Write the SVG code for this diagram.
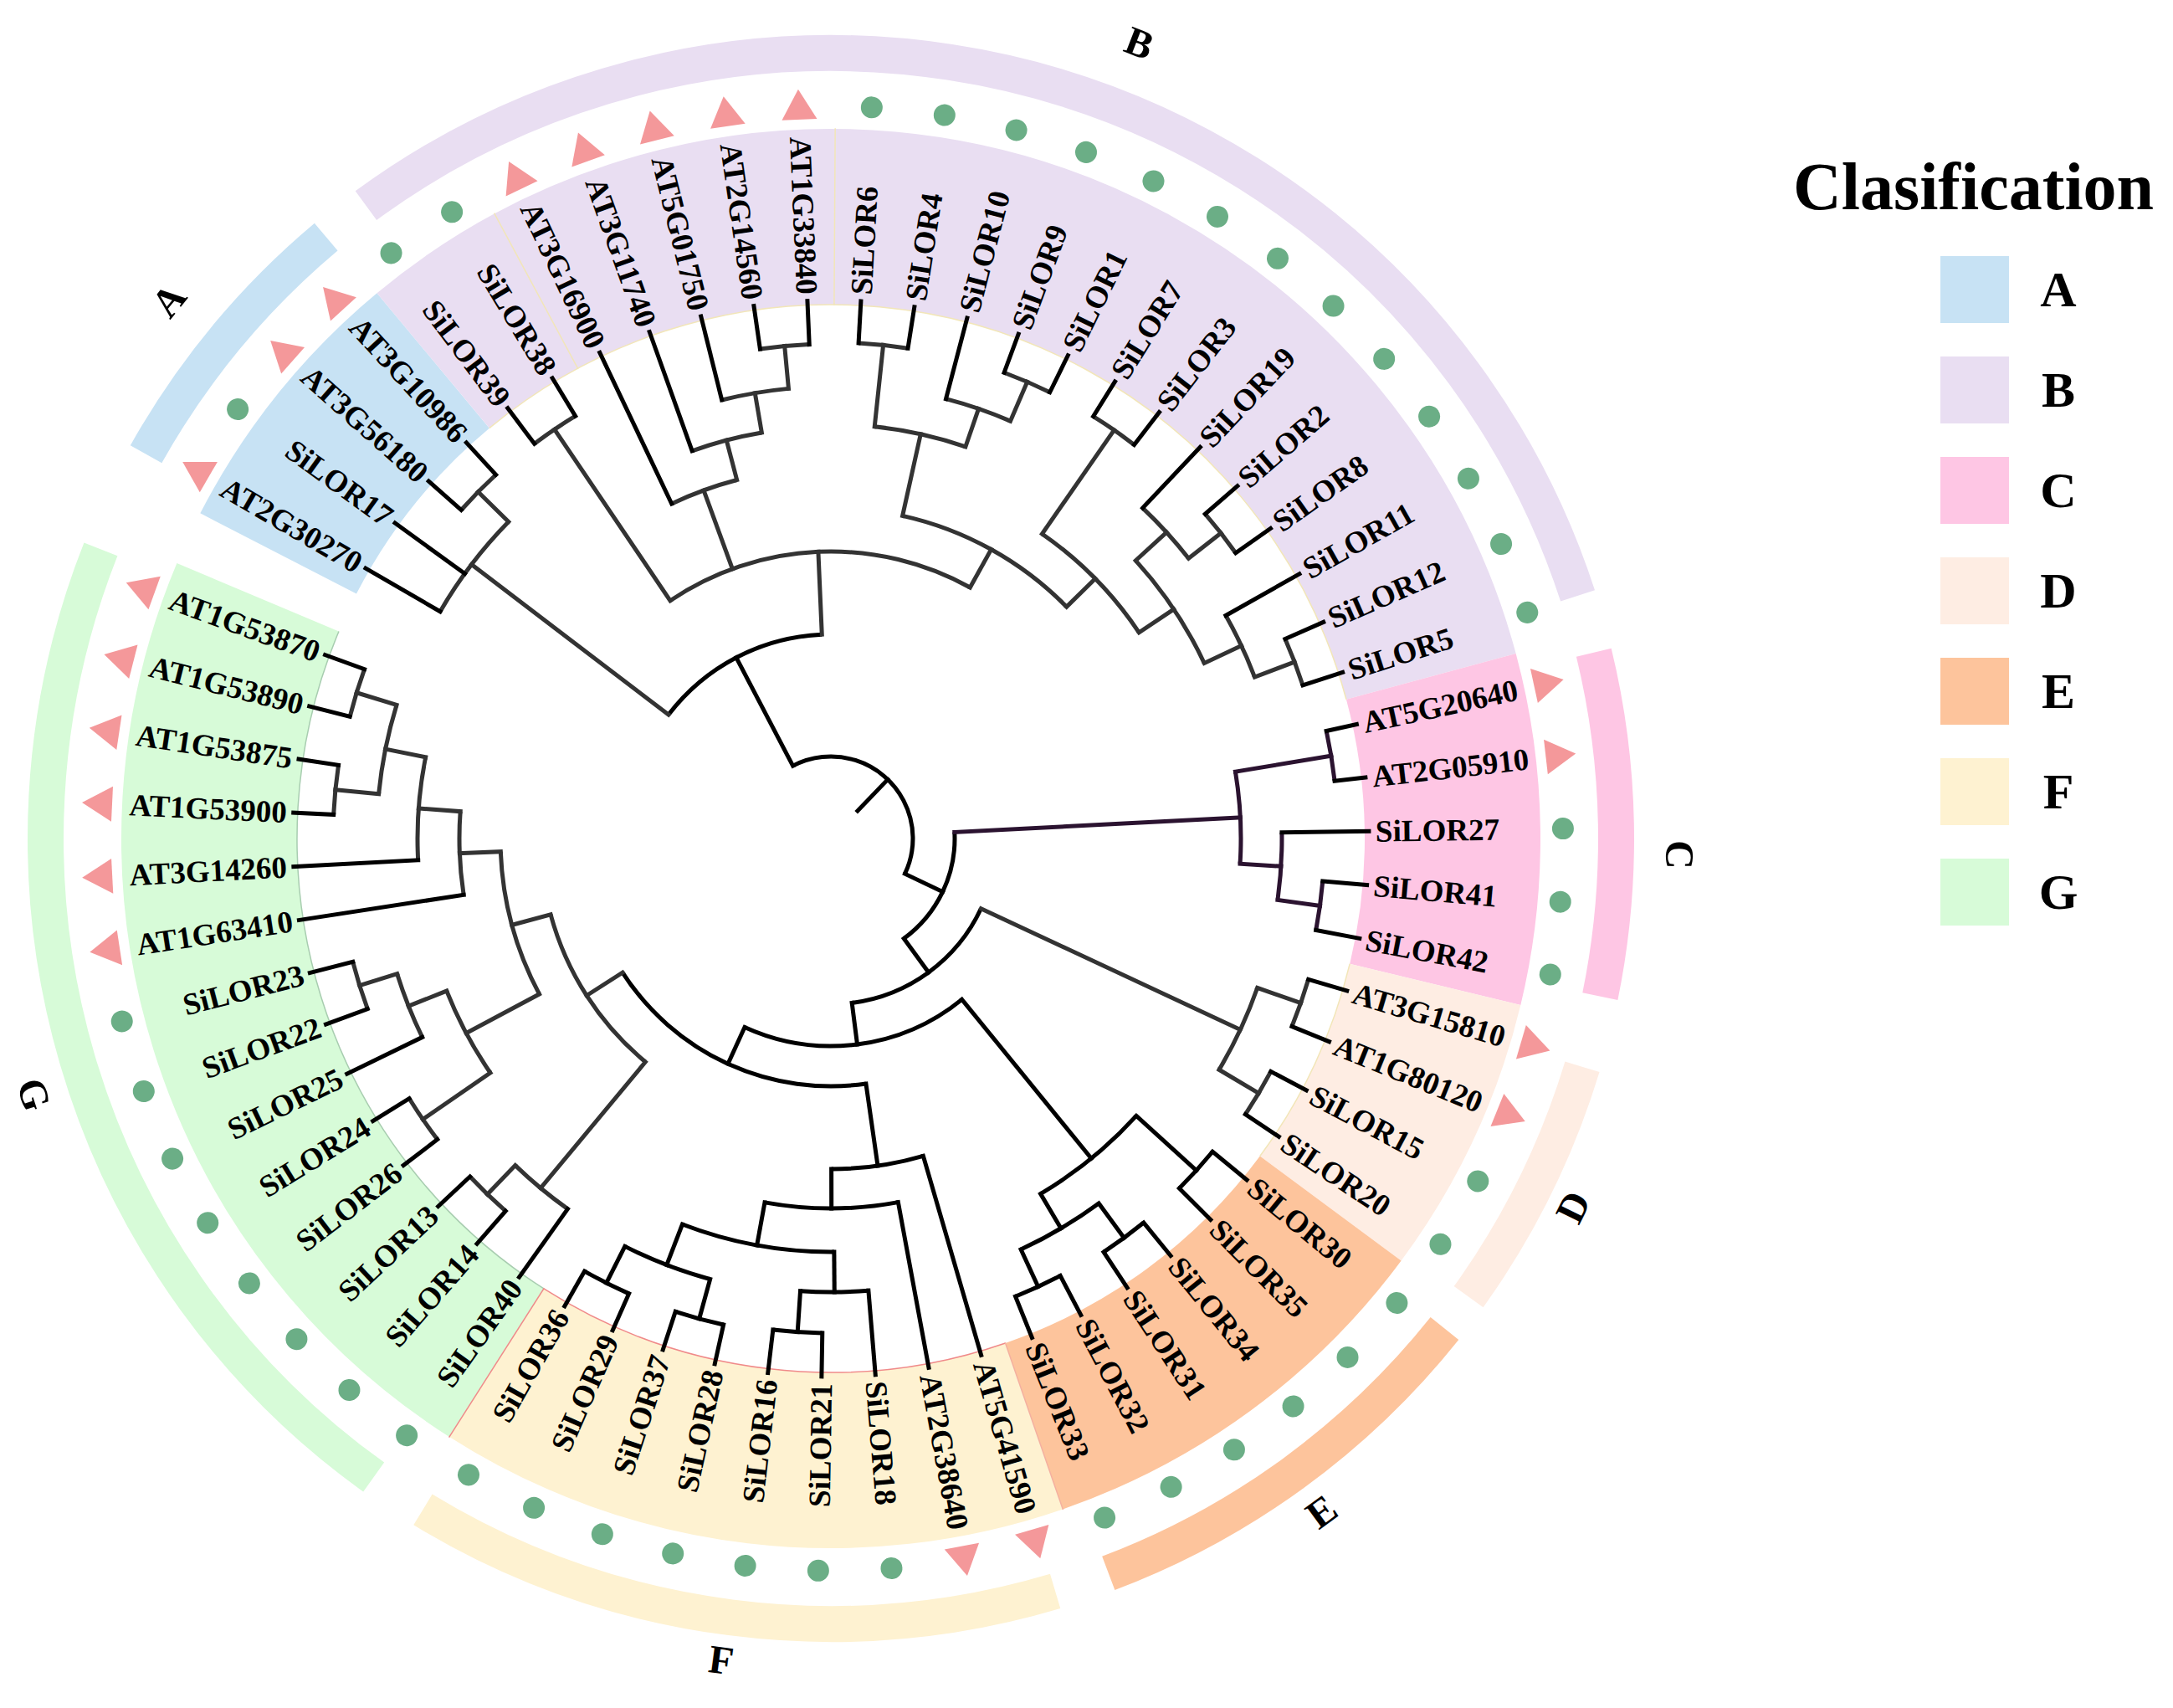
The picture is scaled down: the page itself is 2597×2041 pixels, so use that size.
<svg xmlns="http://www.w3.org/2000/svg" width="2597" height="2041" viewBox="0 0 2597 2041">
<style>
.t{font-family:"Liberation Serif","Times New Roman",serif;font-weight:bold;font-size:37px;dominant-baseline:central;fill:#000}
.L{font-family:"Liberation Serif","Times New Roman",serif;font-weight:bold;font-size:48px;dominant-baseline:central;text-anchor:middle;fill:#000}
.lg{font-family:"Liberation Serif","Times New Roman",serif;font-weight:bold;font-size:60px;dominant-baseline:central;text-anchor:middle;fill:#000}
line{stroke-linecap:square}
.tri{fill:#F4989A}
.dot{fill:#6BAE86}
.sec{fill:none;stroke-width:210}
.band{fill:none;stroke-width:43}
.bd{fill:none;stroke-width:1.5}
</style>
<rect width="2597" height="2041" fill="#fff"/>
<g transform="translate(993 1002)">
<g id="sectors">
<circle class="sec" r="743" stroke="#C7E2F4" pathLength="360" stroke-dasharray="22.95 400" transform="rotate(207.28)"/>
<circle class="sec" r="743" stroke="#E9DEF2" pathLength="360" stroke-dasharray="114.66 400" transform="rotate(230.23)"/>
<circle class="sec" r="743" stroke="#FEC6E4" pathLength="360" stroke-dasharray="28.68 400" transform="rotate(-15.11)"/>
<circle class="sec" r="743" stroke="#FEEDE3" pathLength="360" stroke-dasharray="22.94 400" transform="rotate(13.57)"/>
<circle class="sec" r="743" stroke="#FDC49C" pathLength="360" stroke-dasharray="34.41 400" transform="rotate(36.51)"/>
<circle class="sec" r="743" stroke="#FEF2D1" pathLength="360" stroke-dasharray="51.61 400" transform="rotate(70.92)"/>
<circle class="sec" r="743" stroke="#D7FBD8" pathLength="360" stroke-dasharray="80.29 400" transform="rotate(122.53)"/>
<circle class="bd" r="638" stroke="#F2E6B8" pathLength="360" stroke-dasharray="114.66 400" transform="rotate(230.23)"/>
<circle class="bd" r="638" stroke="#F2E6B8" pathLength="360" stroke-dasharray="22.94 400" transform="rotate(13.57)"/>
<circle class="bd" r="638" stroke="#F08A8A" pathLength="360" stroke-dasharray="51.61 400" transform="rotate(70.92)"/>
<circle class="bd" r="638" stroke="#A8CDB0" pathLength="360" stroke-dasharray="80.29 400" transform="rotate(122.53)"/>
<line class="bd" x1="638" x2="848" stroke="#F2E6B8" transform="rotate(241.7)"/>
<line class="bd" x1="638" x2="848" stroke="#F2E6B8" transform="rotate(270.35)"/>
<line class="bd" x1="638" x2="848" stroke="#F08A8A" transform="rotate(122.53)"/>
<line class="bd" x1="638" x2="848" stroke="#F4B0A0" transform="rotate(70.92)"/>
</g>
<g id="bands">
<circle class="band" r="938.5" stroke="#C7E2F4" pathLength="360" stroke-dasharray="20.7 400" transform="rotate(209.3)"/>
<circle class="band" r="938.5" stroke="#E9DEF2" pathLength="360" stroke-dasharray="108.3 400" transform="rotate(233.7)"/>
<circle class="band" r="938.5" stroke="#FEC6E4" pathLength="360" stroke-dasharray="25.3 400" transform="rotate(-13.7)"/>
<circle class="band" r="938.5" stroke="#FEEDE3" pathLength="360" stroke-dasharray="18.8 400" transform="rotate(16.9)"/>
<circle class="band" r="938.5" stroke="#FDC49C" pathLength="360" stroke-dasharray="30.7 400" transform="rotate(38.6)"/>
<circle class="band" r="938.5" stroke="#FEF2D1" pathLength="360" stroke-dasharray="47.9 400" transform="rotate(73.4)"/>
<circle class="band" r="938.5" stroke="#D7FBD8" pathLength="360" stroke-dasharray="76 400" transform="rotate(125.6)"/>
<text class="L" transform="rotate(219.1) translate(1020 0) rotate(90)">A</text>
<text class="L" transform="rotate(-68.8) translate(1020 0) rotate(90)">B</text>
<text class="L" transform="rotate(1.1) translate(1015 0) rotate(90)">C</text>
<text class="L" transform="rotate(26.4) translate(990 0) rotate(-90)">D</text>
<text class="L" transform="rotate(53.9) translate(995 0) rotate(-90)">E</text>
<text class="L" transform="rotate(97.6) translate(990 0) rotate(-90)">F</text>
<text class="L" transform="rotate(162.2) translate(1000 0) rotate(-90)">G</text>
</g>
<g id="connectors" fill="none" stroke-width="5">
<g stroke="#000">
<line x1="46" x2="98" transform="rotate(-46.07)"/>
<circle r="98" pathLength="360" stroke-dasharray="143.07 400" transform="rotate(-117.6)"/>
<line x1="98" x2="244" transform="rotate(-117.6)"/>
<circle r="244" pathLength="360" stroke-dasharray="50.16 400" transform="rotate(-142.68)"/>
<line x1="98" x2="148" transform="rotate(25.47)"/>
<circle r="148" pathLength="360" stroke-dasharray="56.8 400" transform="rotate(-2.93)"/>
<line x1="148" x2="198" transform="rotate(53.87)"/>
<circle r="198" pathLength="360" stroke-dasharray="57.67 400" transform="rotate(25.03)"/>
<line x1="198" x2="248" transform="rotate(82.7)"/>
<circle r="248" pathLength="360" stroke-dasharray="63.7 400" transform="rotate(50.85)"/>
<line x1="248" x2="493" transform="rotate(50.85)"/>
<circle r="493" pathLength="360" stroke-dasharray="17.21 400" transform="rotate(42.24)"/>
<line x1="493" x2="590" transform="rotate(42.24)"/>
<circle r="590" pathLength="360" stroke-dasharray="5.74 400" transform="rotate(39.37)"/>
<line x1="493" x2="541" transform="rotate(59.45)"/>
<circle r="541" pathLength="360" stroke-dasharray="11.47 400" transform="rotate(53.71)"/>
<line x1="541" x2="592" transform="rotate(53.71)"/>
<circle r="592" pathLength="360" stroke-dasharray="5.74 400" transform="rotate(50.84)"/>
<line x1="541" x2="590" transform="rotate(65.18)"/>
<circle r="590" pathLength="360" stroke-dasharray="5.74 400" transform="rotate(62.31)"/>
<line x1="248" x2="296" transform="rotate(114.55)"/>
<circle r="296" pathLength="360" stroke-dasharray="65.41 400" transform="rotate(81.85)"/>
<line x1="296" x2="395" transform="rotate(81.85)"/>
<circle r="395" pathLength="360" stroke-dasharray="16.13 400" transform="rotate(73.78)"/>
<line x1="395" x2="442" transform="rotate(89.91)"/>
<circle r="442" pathLength="360" stroke-dasharray="20.78 400" transform="rotate(79.52)"/>
<line x1="442" x2="494" transform="rotate(100.3)"/>
<circle r="494" pathLength="360" stroke-dasharray="21.51 400" transform="rotate(89.55)"/>
<line x1="494" x2="542" transform="rotate(89.55)"/>
<circle r="542" pathLength="360" stroke-dasharray="8.61 400" transform="rotate(85.25)"/>
<line x1="542" x2="591" transform="rotate(93.86)"/>
<circle r="591" pathLength="360" stroke-dasharray="5.73 400" transform="rotate(90.99)"/>
<line x1="494" x2="546" transform="rotate(111.06)"/>
<circle r="546" pathLength="360" stroke-dasharray="11.47 400" transform="rotate(105.33)"/>
<line x1="546" x2="595" transform="rotate(105.33)"/>
<circle r="595" pathLength="360" stroke-dasharray="5.73 400" transform="rotate(102.46)"/>
<line x1="546" x2="595" transform="rotate(116.8)"/>
<circle r="595" pathLength="360" stroke-dasharray="5.73 400" transform="rotate(113.93)"/>
</g>
<g stroke="#333">
<line x1="244" x2="540" transform="rotate(-142.68)"/>
<circle r="540" pathLength="360" stroke-dasharray="14.34 400" transform="rotate(-149.85)"/>
<line x1="540" x2="591" transform="rotate(-135.51)"/>
<circle r="591" pathLength="360" stroke-dasharray="5.74 400" transform="rotate(-138.38)"/>
<line x1="244" x2="343" transform="rotate(-92.52)"/>
<circle r="343" pathLength="360" stroke-dasharray="63.05 400" transform="rotate(-124.04)"/>
<line x1="343" x2="590" transform="rotate(-124.04)"/>
<circle r="590" pathLength="360" stroke-dasharray="5.74 400" transform="rotate(-126.91)"/>
<line x1="343" x2="443" transform="rotate(-110.06)"/>
<circle r="443" pathLength="360" stroke-dasharray="10.75 400" transform="rotate(-115.44)"/>
<line x1="443" x2="492" transform="rotate(-104.69)"/>
<circle r="492" pathLength="360" stroke-dasharray="10.03 400" transform="rotate(-109.7)"/>
<line x1="492" x2="540" transform="rotate(-99.67)"/>
<circle r="540" pathLength="360" stroke-dasharray="8.6 400" transform="rotate(-103.97)"/>
<line x1="540" x2="591" transform="rotate(-95.37)"/>
<circle r="591" pathLength="360" stroke-dasharray="5.73 400" transform="rotate(-98.23)"/>
<line x1="343" x2="395" transform="rotate(-60.99)"/>
<circle r="395" pathLength="360" stroke-dasharray="32.97 400" transform="rotate(-77.48)"/>
<line x1="395" x2="495" transform="rotate(-77.48)"/>
<circle r="495" pathLength="360" stroke-dasharray="12.91 400" transform="rotate(-83.94)"/>
<line x1="495" x2="593" transform="rotate(-83.94)"/>
<circle r="593" pathLength="360" stroke-dasharray="5.73 400" transform="rotate(-86.8)"/>
<line x1="495" x2="543" transform="rotate(-71.03)"/>
<circle r="543" pathLength="360" stroke-dasharray="8.6 400" transform="rotate(-75.33)"/>
<line x1="543" x2="594" transform="rotate(-66.73)"/>
<circle r="594" pathLength="360" stroke-dasharray="5.74 400" transform="rotate(-69.6)"/>
<line x1="395" x2="443" transform="rotate(-44.51)"/>
<circle r="443" pathLength="360" stroke-dasharray="21.5 400" transform="rotate(-55.26)"/>
<line x1="443" x2="594" transform="rotate(-55.26)"/>
<circle r="594" pathLength="360" stroke-dasharray="5.74 400" transform="rotate(-58.13)"/>
<line x1="443" x2="493" transform="rotate(-33.76)"/>
<circle r="493" pathLength="360" stroke-dasharray="17.21 400" transform="rotate(-42.36)"/>
<line x1="493" x2="543" transform="rotate(-42.36)"/>
<circle r="543" pathLength="360" stroke-dasharray="8.6 400" transform="rotate(-46.66)"/>
<line x1="543" x2="592" transform="rotate(-38.06)"/>
<circle r="592" pathLength="360" stroke-dasharray="5.73 400" transform="rotate(-40.92)"/>
<line x1="493" x2="542" transform="rotate(-25.15)"/>
<circle r="542" pathLength="360" stroke-dasharray="8.6 400" transform="rotate(-29.45)"/>
<line x1="542" x2="593" transform="rotate(-20.85)"/>
<circle r="593" pathLength="360" stroke-dasharray="5.74 400" transform="rotate(-23.72)"/>
<line x1="198" x2="540" transform="rotate(25.03)"/>
<circle r="540" pathLength="360" stroke-dasharray="11.47 400" transform="rotate(19.3)"/>
<line x1="540" x2="595" transform="rotate(19.3)"/>
<circle r="595" pathLength="360" stroke-dasharray="5.74 400" transform="rotate(16.43)"/>
<line x1="540" x2="595" transform="rotate(30.77)"/>
<circle r="595" pathLength="360" stroke-dasharray="5.74 400" transform="rotate(27.9)"/>
<line x1="296" x2="347" transform="rotate(147.26)"/>
<circle r="347" pathLength="360" stroke-dasharray="35.13 400" transform="rotate(129.7)"/>
<line x1="347" x2="543" transform="rotate(129.7)"/>
<circle r="543" pathLength="360" stroke-dasharray="8.6 400" transform="rotate(125.4)"/>
<line x1="543" x2="591" transform="rotate(134)"/>
<circle r="591" pathLength="360" stroke-dasharray="5.74 400" transform="rotate(131.13)"/>
<line x1="347" x2="395" transform="rotate(164.83)"/>
<circle r="395" pathLength="360" stroke-dasharray="25.81 400" transform="rotate(151.92)"/>
<line x1="395" x2="494" transform="rotate(151.92)"/>
<circle r="494" pathLength="360" stroke-dasharray="12.9 400" transform="rotate(145.47)"/>
<line x1="494" x2="592" transform="rotate(145.47)"/>
<circle r="592" pathLength="360" stroke-dasharray="5.74 400" transform="rotate(142.6)"/>
<line x1="494" x2="543" transform="rotate(158.37)"/>
<circle r="543" pathLength="360" stroke-dasharray="8.61 400" transform="rotate(154.07)"/>
<line x1="543" x2="590" transform="rotate(162.68)"/>
<circle r="590" pathLength="360" stroke-dasharray="5.73 400" transform="rotate(159.81)"/>
<line x1="395" x2="444" transform="rotate(177.73)"/>
<circle r="444" pathLength="360" stroke-dasharray="12.9 400" transform="rotate(171.28)"/>
<line x1="444" x2="494" transform="rotate(184.18)"/>
<circle r="494" pathLength="360" stroke-dasharray="14.34 400" transform="rotate(177.01)"/>
<line x1="494" x2="543" transform="rotate(191.35)"/>
<circle r="543" pathLength="360" stroke-dasharray="11.47 400" transform="rotate(185.62)"/>
<line x1="543" x2="595" transform="rotate(185.62)"/>
<circle r="595" pathLength="360" stroke-dasharray="5.73 400" transform="rotate(182.75)"/>
<line x1="543" x2="593" transform="rotate(197.09)"/>
<circle r="593" pathLength="360" stroke-dasharray="5.73 400" transform="rotate(194.22)"/>
</g>
<g stroke="#2B1330">
<line x1="148" x2="490" transform="rotate(-2.93)"/>
<circle r="490" pathLength="360" stroke-dasharray="12.91 400" transform="rotate(-9.38)"/>
<line x1="490" x2="606" transform="rotate(-9.38)"/>
<circle r="606" pathLength="360" stroke-dasharray="5.74 400" transform="rotate(-12.25)"/>
<line x1="490" x2="539" transform="rotate(3.53)"/>
<circle r="539" pathLength="360" stroke-dasharray="8.61 400" transform="rotate(-0.78)"/>
<line x1="539" x2="590" transform="rotate(7.83)"/>
<circle r="590" pathLength="360" stroke-dasharray="5.74 400" transform="rotate(4.96)"/>
</g>
<g stroke="#000">
<line x1="593" x2="643" transform="rotate(-86.8)"/>
<line x1="593" x2="643" transform="rotate(-81.07)"/>
<line x1="543" x2="643" transform="rotate(-75.33)"/>
<line x1="594" x2="643" transform="rotate(-69.6)"/>
<line x1="594" x2="643" transform="rotate(-63.86)"/>
<line x1="594" x2="643" transform="rotate(-58.13)"/>
<line x1="594" x2="643" transform="rotate(-52.39)"/>
<line x1="543" x2="643" transform="rotate(-46.66)"/>
<line x1="592" x2="643" transform="rotate(-40.92)"/>
<line x1="592" x2="643" transform="rotate(-35.19)"/>
<line x1="542" x2="643" transform="rotate(-29.45)"/>
<line x1="593" x2="643" transform="rotate(-23.72)"/>
<line x1="593" x2="643" transform="rotate(-17.98)"/>
<line x1="606" x2="643" transform="rotate(-12.25)"/>
<line x1="606" x2="643" transform="rotate(-6.51)"/>
<line x1="539" x2="643" transform="rotate(-0.78)"/>
<line x1="590" x2="643" transform="rotate(4.96)"/>
<line x1="590" x2="643" transform="rotate(10.7)"/>
<line x1="595" x2="643" transform="rotate(16.43)"/>
<line x1="595" x2="643" transform="rotate(22.17)"/>
<line x1="595" x2="643" transform="rotate(27.9)"/>
<line x1="595" x2="643" transform="rotate(33.64)"/>
<line x1="590" x2="643" transform="rotate(39.37)"/>
<line x1="590" x2="643" transform="rotate(45.11)"/>
<line x1="592" x2="643" transform="rotate(50.84)"/>
<line x1="592" x2="643" transform="rotate(56.58)"/>
<line x1="590" x2="643" transform="rotate(62.31)"/>
<line x1="590" x2="643" transform="rotate(68.05)"/>
<line x1="395" x2="643" transform="rotate(73.78)"/>
<line x1="442" x2="643" transform="rotate(79.52)"/>
<line x1="542" x2="643" transform="rotate(85.25)"/>
<line x1="591" x2="643" transform="rotate(90.99)"/>
<line x1="591" x2="643" transform="rotate(96.72)"/>
<line x1="595" x2="643" transform="rotate(102.46)"/>
<line x1="595" x2="643" transform="rotate(108.19)"/>
<line x1="595" x2="643" transform="rotate(113.93)"/>
<line x1="595" x2="643" transform="rotate(119.66)"/>
<line x1="543" x2="643" transform="rotate(125.4)"/>
<line x1="591" x2="643" transform="rotate(131.13)"/>
<line x1="591" x2="643" transform="rotate(136.87)"/>
<line x1="592" x2="643" transform="rotate(142.6)"/>
<line x1="592" x2="643" transform="rotate(148.34)"/>
<line x1="543" x2="643" transform="rotate(154.07)"/>
<line x1="590" x2="643" transform="rotate(159.81)"/>
<line x1="590" x2="643" transform="rotate(165.54)"/>
<line x1="444" x2="643" transform="rotate(171.28)"/>
<line x1="494" x2="643" transform="rotate(177.01)"/>
<line x1="595" x2="643" transform="rotate(182.75)"/>
<line x1="595" x2="643" transform="rotate(188.48)"/>
<line x1="593" x2="643" transform="rotate(194.22)"/>
<line x1="593" x2="643" transform="rotate(199.95)"/>
<line x1="540" x2="643" transform="rotate(210.15)"/>
<line x1="540" x2="643" transform="rotate(215.89)"/>
<line x1="591" x2="643" transform="rotate(221.62)"/>
<line x1="591" x2="643" transform="rotate(227.36)"/>
<line x1="590" x2="643" transform="rotate(233.09)"/>
<line x1="590" x2="643" transform="rotate(238.83)"/>
<line x1="443" x2="643" transform="rotate(244.56)"/>
<line x1="492" x2="643" transform="rotate(250.3)"/>
<line x1="540" x2="643" transform="rotate(256.03)"/>
<line x1="591" x2="643" transform="rotate(261.77)"/>
<line x1="591" x2="643" transform="rotate(267.5)"/>
</g>
</g>
<g id="leaves">
<g id="SiLOR6"><text class="t" transform="rotate(-86.8) translate(651 0)">SiLOR6</text><circle class="dot" cx="875" r="13" transform="rotate(-86.8)"/></g>
<g id="SiLOR4"><text class="t" transform="rotate(-81.07) translate(651 0)">SiLOR4</text><circle class="dot" cx="875" r="13" transform="rotate(-81.07)"/></g>
<g id="SiLOR10"><text class="t" transform="rotate(-75.33) translate(651 0)">SiLOR10</text><circle class="dot" cx="875" r="13" transform="rotate(-75.33)"/></g>
<g id="SiLOR9"><text class="t" transform="rotate(-69.6) translate(651 0)">SiLOR9</text><circle class="dot" cx="875" r="13" transform="rotate(-69.6)"/></g>
<g id="SiLOR1"><text class="t" transform="rotate(-63.86) translate(651 0)">SiLOR1</text><circle class="dot" cx="875" r="13" transform="rotate(-63.86)"/></g>
<g id="SiLOR7"><text class="t" transform="rotate(-58.13) translate(651 0)">SiLOR7</text><circle class="dot" cx="875" r="13" transform="rotate(-58.13)"/></g>
<g id="SiLOR3"><text class="t" transform="rotate(-52.39) translate(651 0)">SiLOR3</text><circle class="dot" cx="875" r="13" transform="rotate(-52.39)"/></g>
<g id="SiLOR19"><text class="t" transform="rotate(-46.66) translate(651 0)">SiLOR19</text><circle class="dot" cx="875" r="13" transform="rotate(-46.66)"/></g>
<g id="SiLOR2"><text class="t" transform="rotate(-40.92) translate(651 0)">SiLOR2</text><circle class="dot" cx="875" r="13" transform="rotate(-40.92)"/></g>
<g id="SiLOR8"><text class="t" transform="rotate(-35.19) translate(651 0)">SiLOR8</text><circle class="dot" cx="875" r="13" transform="rotate(-35.19)"/></g>
<g id="SiLOR11"><text class="t" transform="rotate(-29.45) translate(651 0)">SiLOR11</text><circle class="dot" cx="875" r="13" transform="rotate(-29.45)"/></g>
<g id="SiLOR12"><text class="t" transform="rotate(-23.72) translate(651 0)">SiLOR12</text><circle class="dot" cx="875" r="13" transform="rotate(-23.72)"/></g>
<g id="SiLOR5"><text class="t" transform="rotate(-17.98) translate(651 0)">SiLOR5</text><circle class="dot" cx="875" r="13" transform="rotate(-17.98)"/></g>
<g id="AT5G20640"><text class="t" transform="rotate(-12.25) translate(651 0)">AT5G20640</text><polygon class="tri" points="896,0 860,-21 860,21" transform="rotate(-12.25)"/></g>
<g id="AT2G05910"><text class="t" transform="rotate(-6.51) translate(651 0)">AT2G05910</text><polygon class="tri" points="896,0 860,-21 860,21" transform="rotate(-6.51)"/></g>
<g id="SiLOR27"><text class="t" transform="rotate(-0.78) translate(651 0)">SiLOR27</text><circle class="dot" cx="875" r="13" transform="rotate(-0.78)"/></g>
<g id="SiLOR41"><text class="t" transform="rotate(4.96) translate(651 0)">SiLOR41</text><circle class="dot" cx="875" r="13" transform="rotate(4.96)"/></g>
<g id="SiLOR42"><text class="t" transform="rotate(10.7) translate(651 0)">SiLOR42</text><circle class="dot" cx="875" r="13" transform="rotate(10.7)"/></g>
<g id="AT3G15810"><text class="t" transform="rotate(16.43) translate(651 0)">AT3G15810</text><polygon class="tri" points="896,0 860,-21 860,21" transform="rotate(16.43)"/></g>
<g id="AT1G80120"><text class="t" transform="rotate(22.17) translate(651 0)">AT1G80120</text><polygon class="tri" points="896,0 860,-21 860,21" transform="rotate(22.17)"/></g>
<g id="SiLOR15"><text class="t" transform="rotate(27.9) translate(651 0)">SiLOR15</text><circle class="dot" cx="875" r="13" transform="rotate(27.9)"/></g>
<g id="SiLOR20"><text class="t" transform="rotate(33.64) translate(651 0)">SiLOR20</text><circle class="dot" cx="875" r="13" transform="rotate(33.64)"/></g>
<g id="SiLOR30"><text class="t" transform="rotate(39.37) translate(651 0)">SiLOR30</text><circle class="dot" cx="875" r="13" transform="rotate(39.37)"/></g>
<g id="SiLOR35"><text class="t" transform="rotate(45.11) translate(651 0)">SiLOR35</text><circle class="dot" cx="875" r="13" transform="rotate(45.11)"/></g>
<g id="SiLOR34"><text class="t" transform="rotate(50.84) translate(651 0)">SiLOR34</text><circle class="dot" cx="875" r="13" transform="rotate(50.84)"/></g>
<g id="SiLOR31"><text class="t" transform="rotate(56.58) translate(651 0)">SiLOR31</text><circle class="dot" cx="875" r="13" transform="rotate(56.58)"/></g>
<g id="SiLOR32"><text class="t" transform="rotate(62.31) translate(651 0)">SiLOR32</text><circle class="dot" cx="875" r="13" transform="rotate(62.31)"/></g>
<g id="SiLOR33"><text class="t" transform="rotate(68.05) translate(651 0)">SiLOR33</text><circle class="dot" cx="875" r="13" transform="rotate(68.05)"/></g>
<g id="AT5G41590"><text class="t" transform="rotate(73.78) translate(651 0)">AT5G41590</text><polygon class="tri" points="896,0 860,-21 860,21" transform="rotate(73.78)"/></g>
<g id="AT2G38640"><text class="t" transform="rotate(79.52) translate(651 0)">AT2G38640</text><polygon class="tri" points="896,0 860,-21 860,21" transform="rotate(79.52)"/></g>
<g id="SiLOR18"><text class="t" transform="rotate(85.25) translate(651 0)">SiLOR18</text><circle class="dot" cx="875" r="13" transform="rotate(85.25)"/></g>
<g id="SiLOR21"><text class="t" text-anchor="end" transform="rotate(90.99) translate(651 0) rotate(180)">SiLOR21</text><circle class="dot" cx="875" r="13" transform="rotate(90.99)"/></g>
<g id="SiLOR16"><text class="t" text-anchor="end" transform="rotate(96.72) translate(651 0) rotate(180)">SiLOR16</text><circle class="dot" cx="875" r="13" transform="rotate(96.72)"/></g>
<g id="SiLOR28"><text class="t" text-anchor="end" transform="rotate(102.46) translate(651 0) rotate(180)">SiLOR28</text><circle class="dot" cx="875" r="13" transform="rotate(102.46)"/></g>
<g id="SiLOR37"><text class="t" text-anchor="end" transform="rotate(108.19) translate(651 0) rotate(180)">SiLOR37</text><circle class="dot" cx="875" r="13" transform="rotate(108.19)"/></g>
<g id="SiLOR29"><text class="t" text-anchor="end" transform="rotate(113.93) translate(651 0) rotate(180)">SiLOR29</text><circle class="dot" cx="875" r="13" transform="rotate(113.93)"/></g>
<g id="SiLOR36"><text class="t" text-anchor="end" transform="rotate(119.66) translate(651 0) rotate(180)">SiLOR36</text><circle class="dot" cx="875" r="13" transform="rotate(119.66)"/></g>
<g id="SiLOR40"><text class="t" text-anchor="end" transform="rotate(125.4) translate(651 0) rotate(180)">SiLOR40</text><circle class="dot" cx="875" r="13" transform="rotate(125.4)"/></g>
<g id="SiLOR14"><text class="t" text-anchor="end" transform="rotate(131.13) translate(651 0) rotate(180)">SiLOR14</text><circle class="dot" cx="875" r="13" transform="rotate(131.13)"/></g>
<g id="SiLOR13"><text class="t" text-anchor="end" transform="rotate(136.87) translate(651 0) rotate(180)">SiLOR13</text><circle class="dot" cx="875" r="13" transform="rotate(136.87)"/></g>
<g id="SiLOR26"><text class="t" text-anchor="end" transform="rotate(142.6) translate(651 0) rotate(180)">SiLOR26</text><circle class="dot" cx="875" r="13" transform="rotate(142.6)"/></g>
<g id="SiLOR24"><text class="t" text-anchor="end" transform="rotate(148.34) translate(651 0) rotate(180)">SiLOR24</text><circle class="dot" cx="875" r="13" transform="rotate(148.34)"/></g>
<g id="SiLOR25"><text class="t" text-anchor="end" transform="rotate(154.07) translate(651 0) rotate(180)">SiLOR25</text><circle class="dot" cx="875" r="13" transform="rotate(154.07)"/></g>
<g id="SiLOR22"><text class="t" text-anchor="end" transform="rotate(159.81) translate(651 0) rotate(180)">SiLOR22</text><circle class="dot" cx="875" r="13" transform="rotate(159.81)"/></g>
<g id="SiLOR23"><text class="t" text-anchor="end" transform="rotate(165.54) translate(651 0) rotate(180)">SiLOR23</text><circle class="dot" cx="875" r="13" transform="rotate(165.54)"/></g>
<g id="AT1G63410"><text class="t" text-anchor="end" transform="rotate(171.28) translate(651 0) rotate(180)">AT1G63410</text><polygon class="tri" points="896,0 860,-21 860,21" transform="rotate(171.28)"/></g>
<g id="AT3G14260"><text class="t" text-anchor="end" transform="rotate(177.01) translate(651 0) rotate(180)">AT3G14260</text><polygon class="tri" points="896,0 860,-21 860,21" transform="rotate(177.01)"/></g>
<g id="AT1G53900"><text class="t" text-anchor="end" transform="rotate(182.75) translate(651 0) rotate(180)">AT1G53900</text><polygon class="tri" points="896,0 860,-21 860,21" transform="rotate(182.75)"/></g>
<g id="AT1G53875"><text class="t" text-anchor="end" transform="rotate(188.48) translate(651 0) rotate(180)">AT1G53875</text><polygon class="tri" points="896,0 860,-21 860,21" transform="rotate(188.48)"/></g>
<g id="AT1G53890"><text class="t" text-anchor="end" transform="rotate(194.22) translate(651 0) rotate(180)">AT1G53890</text><polygon class="tri" points="896,0 860,-21 860,21" transform="rotate(194.22)"/></g>
<g id="AT1G53870"><text class="t" text-anchor="end" transform="rotate(199.95) translate(651 0) rotate(180)">AT1G53870</text><polygon class="tri" points="896,0 860,-21 860,21" transform="rotate(199.95)"/></g>
<g id="AT2G30270"><text class="t" text-anchor="end" transform="rotate(210.15) translate(651 0) rotate(180)">AT2G30270</text><polygon class="tri" points="896,0 860,-21 860,21" transform="rotate(210.15)"/></g>
<g id="SiLOR17"><text class="t" text-anchor="end" transform="rotate(215.89) translate(651 0) rotate(180)">SiLOR17</text><circle class="dot" cx="875" r="13" transform="rotate(215.89)"/></g>
<g id="AT3G56180"><text class="t" text-anchor="end" transform="rotate(221.62) translate(651 0) rotate(180)">AT3G56180</text><polygon class="tri" points="896,0 860,-21 860,21" transform="rotate(221.62)"/></g>
<g id="AT3G10986"><text class="t" text-anchor="end" transform="rotate(227.36) translate(651 0) rotate(180)">AT3G10986</text><polygon class="tri" points="896,0 860,-21 860,21" transform="rotate(227.36)"/></g>
<g id="SiLOR39"><text class="t" text-anchor="end" transform="rotate(233.09) translate(651 0) rotate(180)">SiLOR39</text><circle class="dot" cx="875" r="13" transform="rotate(233.09)"/></g>
<g id="SiLOR38"><text class="t" text-anchor="end" transform="rotate(238.83) translate(651 0) rotate(180)">SiLOR38</text><circle class="dot" cx="875" r="13" transform="rotate(238.83)"/></g>
<g id="AT3G16900"><text class="t" text-anchor="end" transform="rotate(244.56) translate(651 0) rotate(180)">AT3G16900</text><polygon class="tri" points="896,0 860,-21 860,21" transform="rotate(244.56)"/></g>
<g id="AT3G11740"><text class="t" text-anchor="end" transform="rotate(250.3) translate(651 0) rotate(180)">AT3G11740</text><polygon class="tri" points="896,0 860,-21 860,21" transform="rotate(250.3)"/></g>
<g id="AT5G01750"><text class="t" text-anchor="end" transform="rotate(256.03) translate(651 0) rotate(180)">AT5G01750</text><polygon class="tri" points="896,0 860,-21 860,21" transform="rotate(256.03)"/></g>
<g id="AT2G14560"><text class="t" text-anchor="end" transform="rotate(261.77) translate(651 0) rotate(180)">AT2G14560</text><polygon class="tri" points="896,0 860,-21 860,21" transform="rotate(261.77)"/></g>
<g id="AT1G33840"><text class="t" text-anchor="end" transform="rotate(267.5) translate(651 0) rotate(180)">AT1G33840</text><polygon class="tri" points="896,0 860,-21 860,21" transform="rotate(267.5)"/></g>
</g>
</g>
<g id="legend">
<text x="2143" y="250" font-family="Liberation Serif, Times New Roman, serif" font-weight="bold" font-size="80">Clasification</text>
<rect x="2319" y="306" width="82" height="80" fill="#C7E2F4"/><text class="lg" x="2460" y="346">A</text>
<rect x="2319" y="426" width="82" height="80" fill="#E9DEF2"/><text class="lg" x="2460" y="466">B</text>
<rect x="2319" y="546" width="82" height="80" fill="#FEC6E4"/><text class="lg" x="2460" y="586">C</text>
<rect x="2319" y="666" width="82" height="80" fill="#FEEDE3"/><text class="lg" x="2460" y="706">D</text>
<rect x="2319" y="786" width="82" height="80" fill="#FDC49C"/><text class="lg" x="2460" y="826">E</text>
<rect x="2319" y="906" width="82" height="80" fill="#FEF2D1"/><text class="lg" x="2460" y="946">F</text>
<rect x="2319" y="1026" width="82" height="80" fill="#D7FBD8"/><text class="lg" x="2460" y="1066">G</text>
</g>
</svg>
